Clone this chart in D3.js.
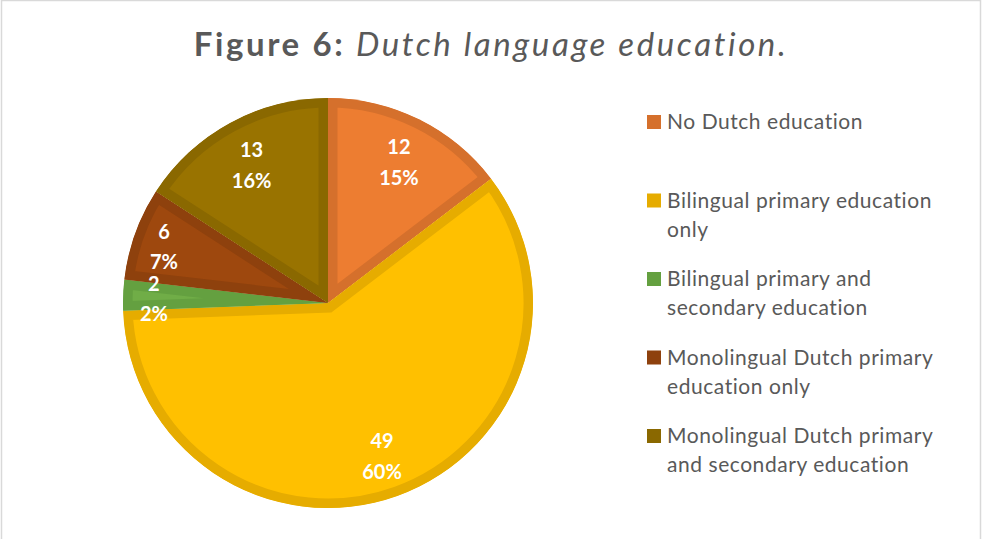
<!DOCTYPE html>
<html>
<head>
<meta charset="utf-8">
<script src="https://cdn.jsdelivr.net/npm/d3@7/dist/d3.min.js"></script>
<style>
  html, body { margin: 0; padding: 0; background: #ffffff; }
  svg { display: block; }
</style>
</head>
<body>
<svg id="chart" width="982" height="539"></svg>
<script>
// Respondents by type of Dutch language education
const categories = [
  "No Dutch education",
  "Bilingual primary education only",
  "Bilingual primary and secondary education",
  "Monolingual Dutch primary education only",
  "Monolingual Dutch primary and secondary education"
];
const counts = [12, 49, 2, 6, 13];
const percentLabels = ["15%", "60%", "2%", "7%", "16%"];
// legend text broken over lines as laid out in the legend
const legendLines = [
  ["No Dutch education"],
  ["Bilingual primary education", "only"],
  ["Bilingual primary and", "secondary education"],
  ["Monolingual Dutch primary", "education only"],
  ["Monolingual Dutch primary", "and secondary education"]
];
const fillColors   = ["#ED7D31", "#FFC000", "#70AD47", "#9E480E", "#997300"];
const borderColors = ["#D5702C", "#E6AC00", "#64A040", "#8E410D", "#8A6800"];

const W = 982, H = 539;
const svg = d3.select("#chart");
const textGrey = "#595959";
const fontFam = "Lato, 'Open Sans', sans-serif";

// chart area outline
svg.append("rect")
  .attr("x", 1.5).attr("y", 0.5)
  .attr("width", 979).attr("height", H + 10)
  .attr("fill", "#ffffff")
  .attr("stroke", "#d9d9d9").attr("stroke-width", 1.5);

// title
const title = svg.append("text")
  .attr("x", W / 2).attr("y", 56)
  .attr("text-anchor", "middle")
  .attr("fill", textGrey)
  .attr("font-family", fontFam)
  .attr("font-size", 33)
  .attr("letter-spacing", 2.6);
title.append("tspan").attr("font-weight", "bold").text("Figure 6: ");
title.append("tspan").attr("font-style", "italic").text("Dutch language education.");

// pie
const cx = 328, cy = 303, R = 205;
const pie = d3.pie().sort(null).value(d => d.value);
const data = counts.map((v, i) => ({ value: v, i }));
const arcs = pie(data);
const arc = d3.arc().innerRadius(0).outerRadius(R);

// clip shapes live in the slices' own (translated) user space
const defs = svg.append("defs");
arcs.forEach((a, k) => {
  defs.append("clipPath").attr("id", "slice-clip-" + k)
    .append("path").attr("d", arc(a));
});

// each slice: fill plus a darker band along its inside edge
svg.append("g").selectAll("path")
  .data(arcs)
  .join("path")
  .attr("transform", `translate(${cx},${cy})`)
  .attr("d", arc)
  .attr("fill", d => fillColors[d.data.i])
  .attr("stroke", d => borderColors[d.data.i])
  .attr("stroke-width", 19)
  .attr("stroke-linejoin", "miter")
  .attr("clip-path", (d, k) => `url(#slice-clip-${k})`);

// data labels: value and share
const labelG = svg.append("g").attr("transform", `translate(${cx},${cy})`);
arcs.forEach(a => {
  const span = a.endAngle - a.startAngle;
  const rl = R * (span < 0.6 ? 0.85 : 0.78);
  const mid = (a.startAngle + a.endAngle) / 2;
  const x = rl * Math.sin(mid), y = -rl * Math.cos(mid);
  const gap = span < 0.6 ? 15 : 15.5;
  const t = labelG.append("text")
    .attr("text-anchor", "middle")
    .attr("fill", "#ffffff")
    .attr("font-family", fontFam)
    .attr("font-weight", "bold")
    .attr("font-size", 20);
  t.append("tspan").attr("x", x).attr("y", y - gap).attr("dy", "0.5em").text(a.data.value);
  t.append("tspan").attr("x", x).attr("y", y + gap).attr("dy", "0.5em").text(percentLabels[a.data.i]);
});

// legend
const legY = d3.scalePoint().domain(d3.range(categories.length)).range([122, 436]);
const leg = svg.append("g");
categories.forEach((c, i) => {
  const y0 = legY(i);
  leg.append("rect")
    .attr("x", 647).attr("y", y0 - 7)
    .attr("width", 14).attr("height", 14)
    .attr("fill", borderColors[i]);
  const t = leg.append("text")
    .attr("fill", textGrey)
    .attr("font-family", fontFam)
    .attr("font-size", 21)
    .attr("letter-spacing", 0.55);
  legendLines[i].forEach((line, j) => {
    t.append("tspan").attr("x", 667).attr("y", y0 + j * 29).attr("dy", "0.35em").text(line);
  });
});
</script>
</body>
</html>
